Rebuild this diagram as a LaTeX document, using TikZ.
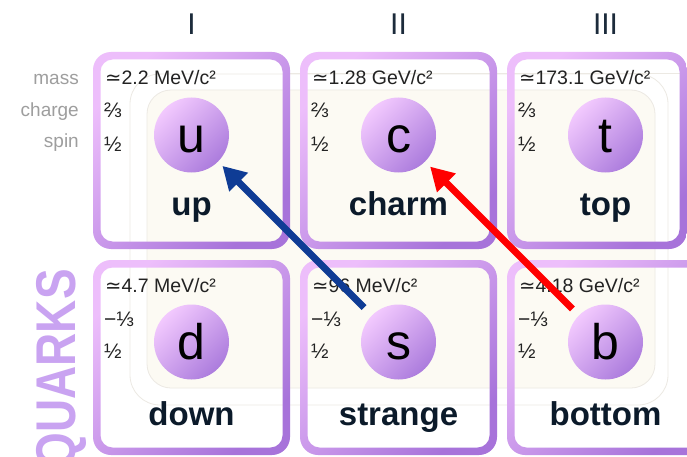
\documentclass[tikz,border=0pt]{standalone}
\usepackage{fontspec}
\setmainfont{Liberation Sans}
\newfontfamily\symfont{DejaVu Sans}
\usetikzlibrary{arrows.meta}

\definecolor{cream}{HTML}{FCFAF3}
\definecolor{faint}{HTML}{ECE9E3}
\definecolor{rimlight}{HTML}{EDBEFB}
\definecolor{rimdark}{HTML}{A773DA}
\definecolor{balllight}{HTML}{F2C9FE}
\definecolor{balldark}{HTML}{AC7CDD}
\definecolor{inkname}{HTML}{0B1A2A}
\definecolor{inkgen}{HTML}{1C2B3B}
\definecolor{inktext}{HTML}{222222}
\definecolor{labelgray}{HTML}{9E9E9E}
\definecolor{quarkpurple}{HTML}{C9A3F1}
\definecolor{mixblue}{HTML}{0F3C95}
\definecolor{mixred}{HTML}{FF0000}

% rounded frame with a diagonal gradient rim
\newcommand\quarkframe[4]{%
  \path[shade, even odd rule, top color=rimlight, bottom color=rimdark,
        shading angle=45]
    [rounded corners=18pt] (#1,#2) rectangle (#3,#4)
    [rounded corners=12pt] (#1+7.5,#2+7.5) rectangle (#3-7.5,#4-7.5);
}

\begin{document}
\begin{tikzpicture}[x=1pt,y=-1pt,
  ball/.style={circle, minimum size=75pt, inner sep=0pt, shade,
    top color=balllight, bottom color=balldark, shading angle=45,
    font=\fontsize{50}{50}\selectfont, text height=35pt, text depth=0pt,
    text=black},
  qname/.style={anchor=base, inner sep=0pt, text=inkname,
    font=\fontsize{33}{33}\selectfont\bfseries},
  mass/.style={anchor=base west, inner sep=0pt, text=inktext,
    font=\fontsize{19.5}{19.5}\selectfont},
  frac/.style={anchor=base west, inner sep=0pt, text=inktext,
    font=\fontsize{21}{21}\selectfont},
  side/.style={anchor=base east, inner sep=0pt, text=labelgray,
    font=\fontsize{19}{19}\selectfont},
  gen/.style={anchor=base, inner sep=0pt, text=inkgen,
    font=\fontsize{30}{30}\selectfont},
  mix/.style={line width=7pt, -{Triangle[length=23pt,width=25pt]}},
]
\useasboundingbox (0,0) rectangle (687,457);
\clip (0,0) rectangle (687,457);
\fill[white] (0,0) rectangle (687,457);

% background panels
\fill[cream, draw=faint, line width=0.8pt, rounded corners=24pt]
  (147,90) rectangle (655,388);
\draw[faint, line width=0.8pt, rounded corners=30pt]
  (130,74) rectangle (668,405);
\draw[faint, line width=0.8pt] (283,73) -- (687,73);

% frames
\quarkframe{93}{52}{290}{249}
\quarkframe{300}{52}{497}{249}
\quarkframe{507}{52}{687}{249}
\quarkframe{93}{260}{290}{455}
\quarkframe{300}{260}{497}{455}
\quarkframe{507}{260}{710}{455}

% generation numerals
\node[gen] (g1) at (191.5,35) {I};
\node[gen] (g2) at (398.5,35) {II};
\node[gen] (g3) at (605.5,35) {III};

% row labels
\node[side] (lmass) at (79,85) {mass};
\node[side] (lcharge) at (79,117) {charge};
\node[side] (lspin) at (79,148) {spin};

% group label
\node[rotate=90, anchor=base east, inner sep=0pt, text=quarkpurple,
      font=\fontsize{56}{56}\selectfont\bfseries] (grp) at (75,269)
  {\scalebox{0.82}[1]{QUARKS}};

% particles
\node[ball] (u) at (191.5,135) {u};
\node[ball] (c) at (398.5,135) {c};
\node[ball] (t) at (605.5,135) {t};
\node[ball] (d) at (191.5,342) {d};
\node[ball] (s) at (398.5,342) {s};
\node[ball] (b) at (605.5,342) {b};

\node[qname] (nu) at (191.5,215) {up};
\node[qname] (nc) at (398.5,215) {charm};
\node[qname] (nt) at (605.5,215) {top};
\node[qname] (nd) at (191.5,425) {down};
\node[qname] (ns) at (398.5,425) {strange};
\node[qname] (nb) at (605.5,425) {bottom};

% masses
\node[mass] (mu) at (105,85) {{\symfont ≃}2.2 MeV/c²};
\node[mass] (mc) at (312,85) {{\symfont ≃}1.28 GeV/c²};
\node[mass] (mt) at (519,85) {{\symfont ≃}173.1 GeV/c²};
\node[mass] (md) at (105,292) {{\symfont ≃}4.7 MeV/c²};
\node[mass] (ms) at (312,292) {{\symfont ≃}96 MeV/c²};
\node[mass] (mb) at (519,292) {{\symfont ≃}4.18 GeV/c²};

% charges and spins
\node[frac] (qu) at (104,118) {⅔};
\node[frac] (qc) at (311,118) {⅔};
\node[frac] (qt) at (518,118) {⅔};
\node[frac] (qd) at (104,326) {−⅓};
\node[frac] (qs) at (311,326) {−⅓};
\node[frac] (qb) at (518,326) {−⅓};
\node[frac] (su) at (104,152) {½};
\node[frac] (sc) at (311,152) {½};
\node[frac] (st) at (518,152) {½};
\node[frac] (sd) at (104,358) {½};
\node[frac] (ss) at (311,358) {½};
\node[frac] (sb) at (518,358) {½};

% mixing arrows
\draw[mix, mixblue, shorten <=11pt, shorten >=6pt] (s) -- (u);
\draw[mix, mixred, shorten <=9pt, shorten >=7pt] (b) -- (c);
\end{tikzpicture}
\end{document}
